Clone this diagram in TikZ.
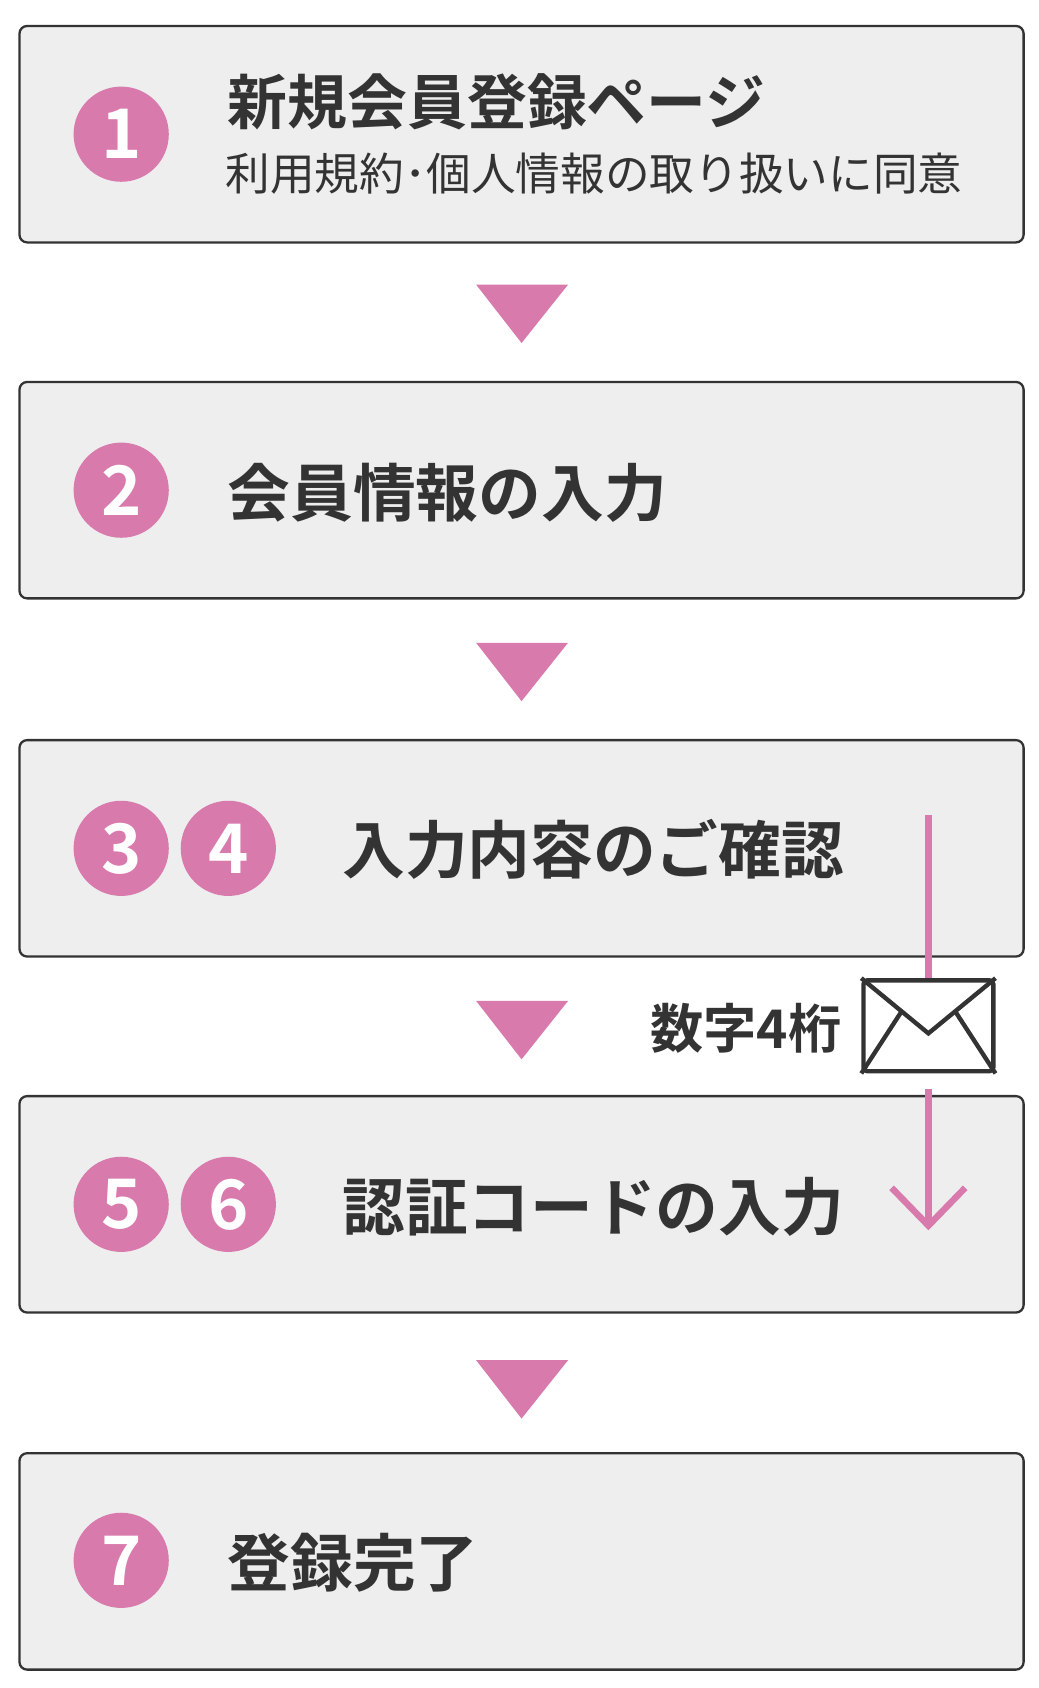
\documentclass[tikz,border=0pt]{standalone}
\usepackage{fontspec}
\setmainfont{Noto Sans CJK JP}
\newfontfamily\jpbold{Noto Sans CJK JP Bold}
\usetikzlibrary{arrows.meta}
\definecolor{stepPink}{HTML}{D97AAD}
\definecolor{stepGray}{HTML}{EEEEEE}
\definecolor{stepText}{HTML}{333333}
\tikzset{
  stepbox/.style={draw=stepText,line width=1.2pt,fill=stepGray,rounded corners=4pt},
  numdot/.style={circle,fill=stepPink,minimum size=1.76cm,inner sep=0pt,text=white,font=\jpbold\fontsize{36}{36}\selectfont},
  title/.style={anchor=west,text=stepText,font=\jpbold\fontsize{33}{36}\selectfont,inner sep=0pt},
  downtri/.style={fill=stepPink}
}
\begin{document}
\begin{tikzpicture}[x=0.02cm,y=-0.02cm]
\useasboundingbox (0,0) rectangle (960,1560);
% boxes
\foreach \t in {24,353,684,1013,1343}
  \draw[stepbox] (18,\t) rectangle (946,\t+200);
% triangles
\foreach \t in {263,594,925,1257}
  \fill[downtri] (440,\t)--(525,\t)--(482,\t+54)--cycle;
% numbers
\node[numdot] (n1) at (112,124) {1};
\node[numdot] (n2) at (112,453) {2};
\node[numdot] (n3) at (112,784) {3};
\node[numdot] (n4) at (211,784) {4};
\node[numdot] (n5) at (112,1113) {5};
\node[numdot] (n6) at (211,1113) {6};
\node[numdot] (n7) at (112,1442) {7};
% texts
\node[title,font=\jpbold\fontsize{31.5}{36}\selectfont] (t1) at (210,94) {新規会員登録ページ};
\node[title,font=\fontsize{23.5}{26}\selectfont] (t1b) at (208,160) {利用規約･個人情報の取り扱いに同意};
\node[title] (t2) at (210,455) {会員情報の入力};
\node[title] (t3) at (316,785) {入力内容のご確認};
\node[title] (t4) at (316,1115) {認証コードの入力};
\node[title] (t5) at (210,1444) {登録完了};
% mail
\node[draw=stepText,line width=2.3pt,fill=white,rounded corners=2pt,minimum width=2.4cm,minimum height=1.68cm,inner sep=0pt] (mail) at (858,948) {};
\draw[stepText,line width=2.3pt] (mail.north west)--(858,955)--(mail.north east);
\draw[stepText,line width=2.3pt] (mail.south west)--(833,935) (mail.south east)--(883,935);
\node[title,anchor=east,font=\jpbold\fontsize{28}{30}\selectfont] (code) at (778,950) {数字4桁};
\coordinate (s) at (858,753);
\coordinate (e) at (858,1137);
\draw[stepPink,line width=3.4pt] (s)--(mail.north);
\draw[stepPink,line width=3.4pt,-{Straight Barb[length=0.7cm,width=1.36cm]}] (mail.south)++(0,14)--(e);
\end{tikzpicture}
\end{document}
